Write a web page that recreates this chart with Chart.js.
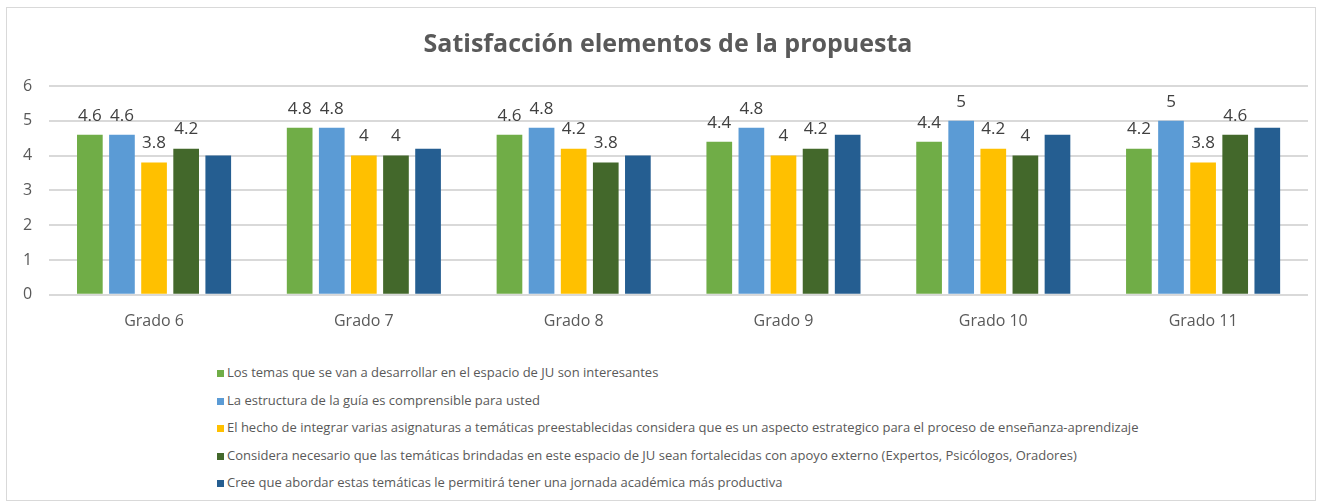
<!DOCTYPE html>
<html>
<head>
<meta charset="utf-8">
<script src="https://cdn.jsdelivr.net/npm/chart.js@4.4.0/dist/chart.umd.min.js"></script>
<style>
    body {
        margin: 0;
        background: #ffffff;
        font-family: 'Open Sans', sans-serif;
    }
    .chart-frame {
        position: absolute;
        left: 6px;
        top: 7px;
        width: 1308px;
        height: 492px;
        border: 1px solid #d9d9d9;
    }
    .chart-container {
        position: absolute;
        left: 0;
        top: 0;
        width: 1321px;
        height: 350px;
    }
    #legend {
        position: absolute;
        left: 217px;
        top: 362px;
        margin: 0;
        padding: 0;
        list-style: none;
    }
    #legend li {
        height: 27.6px;
        line-height: 20px;
        font-size: 13px;
        color: #595959;
        white-space: nowrap;
    }
    #legend .box {
        display: inline-block;
        width: 7px;
        height: 7px;
        margin-right: 3px;
        vertical-align: 0px;
    }
</style>
</head>
<body>
<div class="chart-frame"></div>
<div class="chart-container">
    <canvas id="SatisfaccionChart"></canvas>
</div>
<ul id="legend"></ul>

<script>
// Chart data
const grados = ['Grado 6', 'Grado 7', 'Grado 8', 'Grado 9', 'Grado 10', 'Grado 11'];

const temasInteresantes = [4.6, 4.8, 4.6, 4.4, 4.4, 4.2];
const estructuraGuia = [4.6, 4.8, 4.8, 4.8, 5, 5];
const integrarAsignaturas = [3.8, 4, 4.2, 4, 4.2, 3.8];
const apoyoExterno = [4.2, 4, 3.8, 4.2, 4, 4.6];
const jornadaProductiva = [4, 4.2, 4, 4.6, 4.6, 4.8];

const yTicks = [0, 1, 2, 3, 4, 5, 6];

const seriesNames = [
    'Los temas que se van a desarrollar en el espacio de JU son interesantes',
    'La estructura de la guía es comprensible para usted',
    'El hecho de integrar varias asignaturas a temáticas preestablecidas considera que es un aspecto estrategico para el proceso de enseñanza-aprendizaje',
    'Considera necesario que las temáticas brindadas en este espacio de JU sean fortalecidas con apoyo externo (Expertos, Psicólogos, Oradores)',
    'Cree que abordar estas temáticas le permitirá tener una jornada académica más productiva'
];

const GREEN = '#70AD47';
const LIGHT_BLUE = '#5B9BD5';
const GOLD = '#FFC000';
const DARK_GREEN = '#43682B';
const DARK_BLUE = '#255E91';
const TEXT_GREY = '#595959';

// Only the first four series carry value labels
const labeledSeries = [0, 1, 2, 3];

// Draw value labels above the bars
const valueLabels = {
    id: 'valueLabels',
    afterDatasetsDraw(chart) {
        const ctx = chart.ctx;
        ctx.save();
        ctx.font = '17px "Open Sans", sans-serif';
        ctx.fillStyle = '#404040';
        ctx.textAlign = 'center';
        ctx.textBaseline = 'middle';
        labeledSeries.forEach(i => {
            const meta = chart.getDatasetMeta(i);
            meta.data.forEach((bar, j) => {
                const value = chart.data.datasets[i].data[j];
                ctx.fillText(String(value), bar.x, bar.y - 19);
            });
        });
        ctx.restore();
    }
};

// The original title sits a little right of the canvas centre
const titleShift = {
    id: 'titleShift',
    afterLayout(chart) {
        if (chart.titleBlock) {
            chart.titleBlock.left += 22;
        }
    }
};

function makeDataset(label, data, color) {
    return {
        label: label,
        data: data,
        backgroundColor: color,
        borderWidth: 0,
        categoryPercentage: 0.765,
        barPercentage: 0.8
    };
}

function createChart() {
    const canvas = document.getElementById('SatisfaccionChart');

    const data = {
        labels: grados,
        datasets: [
            makeDataset(seriesNames[0], temasInteresantes, GREEN),
            makeDataset(seriesNames[1], estructuraGuia, LIGHT_BLUE),
            makeDataset(seriesNames[2], integrarAsignaturas, GOLD),
            makeDataset(seriesNames[3], apoyoExterno, DARK_GREEN),
            makeDataset(seriesNames[4], jornadaProductiva, DARK_BLUE)
        ]
    };

    const config = {
        type: 'bar',
        data: data,
        options: {
            responsive: true,
            maintainAspectRatio: false,
            animation: false,
            layout: {
                padding: { left: 6, right: 13, top: 0, bottom: 10 }
            },
            plugins: {
                legend: { display: false },
                tooltip: { enabled: false },
                title: {
                    display: true,
                    text: 'Satisfacción elementos de la propuesta',
                    color: TEXT_GREY,
                    font: { family: '"Open Sans", sans-serif', size: 25, weight: 'bold' },
                    padding: { top: 30, bottom: 26 }
                }
            },
            scales: {
                x: {
                    grid: { display: false },
                    border: { display: false },
                    ticks: {
                        color: TEXT_GREY,
                        font: { family: '"Open Sans", sans-serif', size: 16 },
                        padding: 9
                    }
                },
                y: {
                    min: yTicks[0],
                    max: yTicks[yTicks.length - 1],
                    afterBuildTicks: axis => {
                        axis.ticks = yTicks.map(v => ({ value: v }));
                    },
                    grid: { color: '#d9d9d9', lineWidth: 2, drawTicks: false },
                    border: { display: false },
                    ticks: {
                        color: TEXT_GREY,
                        font: { family: '"Open Sans", sans-serif', size: 16 },
                        padding: 17
                    }
                }
            }
        },
        plugins: [valueLabels, titleShift]
    };

    return new Chart(canvas, config);
}

// Build the vertical legend from the chart's datasets
function buildLegend(chart) {
    const list = document.getElementById('legend');
    chart.data.datasets.forEach(ds => {
        const item = document.createElement('li');
        const box = document.createElement('span');
        box.className = 'box';
        box.style.background = ds.backgroundColor;
        item.appendChild(box);
        item.appendChild(document.createTextNode(ds.label));
        list.appendChild(item);
    });
}

const chart = createChart();
buildLegend(chart);
</script>
</body>
</html>
